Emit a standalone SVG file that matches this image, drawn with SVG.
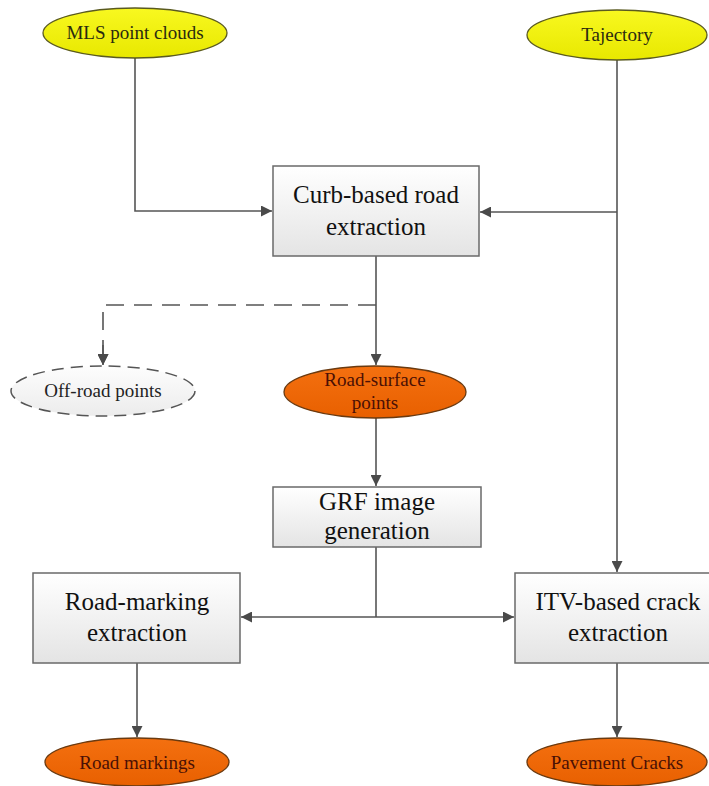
<svg xmlns="http://www.w3.org/2000/svg" width="709" height="786" viewBox="0 0 709 786">
<defs>
<linearGradient id="boxg" x1="0" y1="0" x2="0" y2="1">
<stop offset="0" stop-color="#ffffff"/>
<stop offset="1" stop-color="#e4e4e4"/>
</linearGradient>
<linearGradient id="yelg" x1="0" y1="0" x2="0" y2="1">
<stop offset="0" stop-color="#f8f820"/>
<stop offset="1" stop-color="#e8e800"/>
</linearGradient>
<linearGradient id="orag" x1="0" y1="0" x2="0" y2="1">
<stop offset="0" stop-color="#f47010"/>
<stop offset="1" stop-color="#e86000"/>
</linearGradient>
<linearGradient id="grayg" x1="0" y1="0" x2="0" y2="1">
<stop offset="0" stop-color="#fdfdfd"/>
<stop offset="1" stop-color="#ececec"/>
</linearGradient>
<marker id="arr" viewBox="0 0 10 10" refX="10" refY="5" markerWidth="11" markerHeight="11" markerUnits="userSpaceOnUse" orient="auto">
<path d="M0,0 L10,5 L0,10 z" fill="#4a4a4a"/>
</marker>
</defs>
<style>
.box{fill:url(#boxg);stroke:#6a6a6a;stroke-width:1.5}
.yel{fill:url(#yelg);stroke:#5a5a20;stroke-width:1.3}
.ora{fill:url(#orag);stroke:#6a3a10;stroke-width:1.3}
.gry{fill:url(#grayg);stroke:#555;stroke-width:1.5;stroke-dasharray:12 7}
.bt{font-family:"Liberation Serif","Times New Roman",serif;font-size:25px;fill:#111;text-anchor:middle}
.et{font-family:"Liberation Serif","Times New Roman",serif;font-size:19px;text-anchor:middle}
.yt{fill:#2a2a10}
.ot{fill:#4a1005}
.gt{fill:#222}
.ln{fill:none;stroke:#555;stroke-width:1.6}
.dl{fill:none;stroke:#555;stroke-width:1.6;stroke-dasharray:18 10}
</style>
<g id="connectors">
<polyline class="ln" points="135,58 135,211 272,211" marker-end="url(#arr)"/>
<polyline class="ln" points="617,60 617,572" marker-end="url(#arr)"/>
<polyline class="ln" points="617,212 480,212" marker-end="url(#arr)"/>
<polyline class="ln" points="376,256 376,365" marker-end="url(#arr)"/>
<polyline class="dl" points="376,305 103,305 103,365" marker-end="url(#arr)"/>
<line x1="103" y1="345" x2="103" y2="365" stroke="#555" stroke-width="1.6" marker-end="url(#arr)"/>
<polyline class="ln" points="376,418 376,486" marker-end="url(#arr)"/>
<polyline class="ln" points="376,547 376,617"/>
<polyline class="ln" points="376,617 241,617" marker-end="url(#arr)"/>
<polyline class="ln" points="376,617 514,617" marker-end="url(#arr)"/>
<polyline class="ln" points="137,663 137,737" marker-end="url(#arr)"/>
<polyline class="ln" points="617,663 617,737" marker-end="url(#arr)"/>
</g>
<g id="mls">
<ellipse class="yel" cx="135" cy="33" rx="92" ry="25"/>
<text class="et yt" x="135" y="39">MLS point clouds</text>
</g>
<g id="trajectory">
<ellipse class="yel" cx="617" cy="35" rx="90" ry="25"/>
<text class="et yt" x="617" y="41">Tajectory</text>
</g>
<g id="curb">
<rect class="box" x="273" y="166" width="206" height="90"/>
<text class="bt" x="376" y="203">Curb-based road</text>
<text class="bt" x="376" y="235">extraction</text>
</g>
<g id="offroad">
<ellipse class="gry" cx="103" cy="391" rx="92" ry="25"/>
<text class="et gt" x="103" y="397">Off-road points</text>
</g>
<g id="roadsurface">
<ellipse class="ora" cx="375" cy="392" rx="91" ry="26"/>
<text class="et ot" x="375" y="386">Road-surface</text>
<text class="et ot" x="375" y="409">points</text>
</g>
<g id="grf">
<rect class="box" x="273" y="487" width="208" height="60"/>
<text class="bt" x="377" y="510">GRF image</text>
<text class="bt" x="377" y="539">generation</text>
</g>
<g id="roadmarking">
<rect class="box" x="33" y="573" width="207" height="90"/>
<text class="bt" x="137" y="610">Road-marking</text>
<text class="bt" x="137" y="641">extraction</text>
</g>
<g id="itv">
<rect class="box" x="515" y="573" width="206" height="90"/>
<text class="bt" x="618" y="610">ITV-based crack</text>
<text class="bt" x="618" y="641">extraction</text>
</g>
<g id="roadmarkings">
<ellipse class="ora" cx="137" cy="762" rx="92" ry="24"/>
<text class="et ot" x="137" y="769">Road markings</text>
</g>
<g id="cracks">
<ellipse class="ora" cx="617" cy="762" rx="90" ry="24"/>
<text class="et ot" x="617" y="769">Pavement Cracks</text>
</g>
</svg>
